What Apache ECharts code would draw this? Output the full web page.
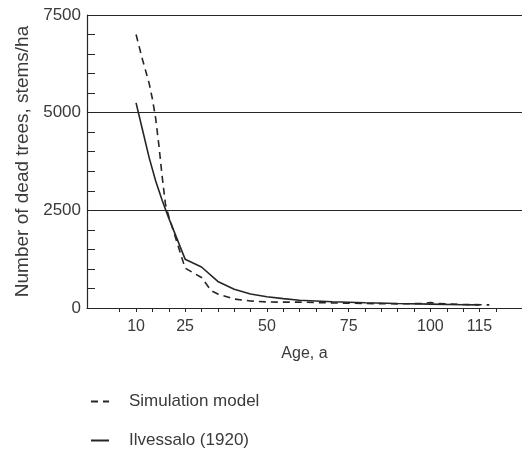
<!DOCTYPE html>
<html>
<head>
    <meta charset="utf-8">
    <title>Dead trees</title>
    <script src="https://cdn.jsdelivr.net/npm/echarts@6.0.0/dist/echarts.min.js"></script>
    <style>
        html, body { margin: 0; padding: 0; background: #fff; }
        #chart { width: 522px; height: 453px; }
    </style>
</head>
<body>
<div id="chart"></div>
<script>

// Simulation model (dashed)
var simAges   = [10, 12, 14, 15, 16, 17, 18, 19, 20, 25, 30, 33, 35, 40, 45, 50, 55, 60, 70, 80, 90, 98, 100, 102, 110, 118];
var simValues = [7000, 6350, 5750, 5350, 4850, 4150, 3350, 2650, 2350, 1020, 780, 440, 360, 230, 180, 155, 150, 150, 130, 115, 105, 115, 140, 115, 90, 80];

// Ilvessalo (1920) (solid)
var ilvAges   = [10, 12, 14, 16, 18, 20, 25, 30, 35, 40, 45, 50, 55, 60, 70, 80, 90, 100, 110, 115];
var ilvValues = [5250, 4550, 3850, 3250, 2750, 2300, 1250, 1050, 680, 480, 360, 290, 240, 200, 160, 135, 115, 100, 85, 80];

var xTickValues  = [5, 10, 15, 20, 25, 30, 35, 40, 45, 50, 55, 60, 65, 70, 75, 80, 85, 90, 95, 100, 105, 110, 115, 120];
var xLabelValues = [10, 25, 50, 75, 100, 115];

function pairs(xs, ys){
    var out = [];
    for(var i = 0; i < xs.length; i++){
        out.push([xs[i], ys[i]]);
    }
    return out;
}

var ink = '#262626';
var textInk = '#3a3a3a';
var font = 'Liberation Sans';

var myChart = echarts.init(document.getElementById('chart'));
var option = {
    animation: false,
    backgroundColor: '#fff',
    grid: { left: 87, right: 0, top: 15, bottom: 145, containLabel: false, outerBoundsMode: 'none' },
    legend: {
        orient: 'vertical',
        left: 90,
        top: 393,
        padding: 0,
        itemWidth: 18,
        itemHeight: 14,
        itemGap: 22,
        itemStyle: { color: 'transparent', borderWidth: 0, opacity: 0 },
        textStyle: { fontSize: 17, color: textInk, fontFamily: font, padding: [0, 0, 0, 15] },
        data: ['Simulation model', 'Ilvessalo (1920)']
    },
    xAxis: {
        type: 'value',
        min: -5,
        max: 128,
        name: 'Age, a',
        nameLocation: 'middle',
        nameGap: 38,
        nameTextStyle: { fontSize: 16, color: textInk, fontFamily: font },
        axisLine: { show: true, onZero: false, lineStyle: { color: ink, width: 1.2 } },
        axisTick: { show: true, length: 4, customValues: xTickValues, lineStyle: { color: ink } },
        axisLabel: {
            customValues: xLabelValues, margin: 11, fontSize: 16, color: textInk, fontFamily: font,
            formatter: function(v){ return String(v); }
        },
        splitLine: { show: false }
    },
    yAxis: {
        type: 'value',
        min: 0,
        max: 7500,
        interval: 2500,
        name: 'Number of dead trees, stems/ha',
        nameLocation: 'middle',
        nameGap: 40,
        nameTextStyle: { fontSize: 19, color: textInk, fontFamily: font },
        axisLine: { show: true, onZero: false, lineStyle: { color: ink, width: 1.2 } },
        axisTick: { show: true, inside: true, length: 8, lineStyle: { color: ink } },
        minorTick: { show: true, splitNumber: 5, length: 8, lineStyle: { color: ink } },
        axisLabel: {
            margin: 6, fontSize: 17, color: textInk, fontFamily: font,
            formatter: function(v){ return String(v); }
        },
        splitLine: { show: true, lineStyle: { color: ink, width: 1 } }
    },
    series: [
        {
            name: 'Simulation model',
            type: 'line',
            symbol: 'none',
            data: pairs(simAges, simValues),
            lineStyle: { color: ink, width: 1.6, type: [7, 5] },
            itemStyle: { color: ink }
        },
        {
            name: 'Ilvessalo (1920)',
            type: 'line',
            symbol: 'none',
            data: pairs(ilvAges, ilvValues),
            lineStyle: { color: ink, width: 1.6 },
            itemStyle: { color: ink }
        }
    ]
};
myChart.setOption(option);

</script>
</body>
</html>
